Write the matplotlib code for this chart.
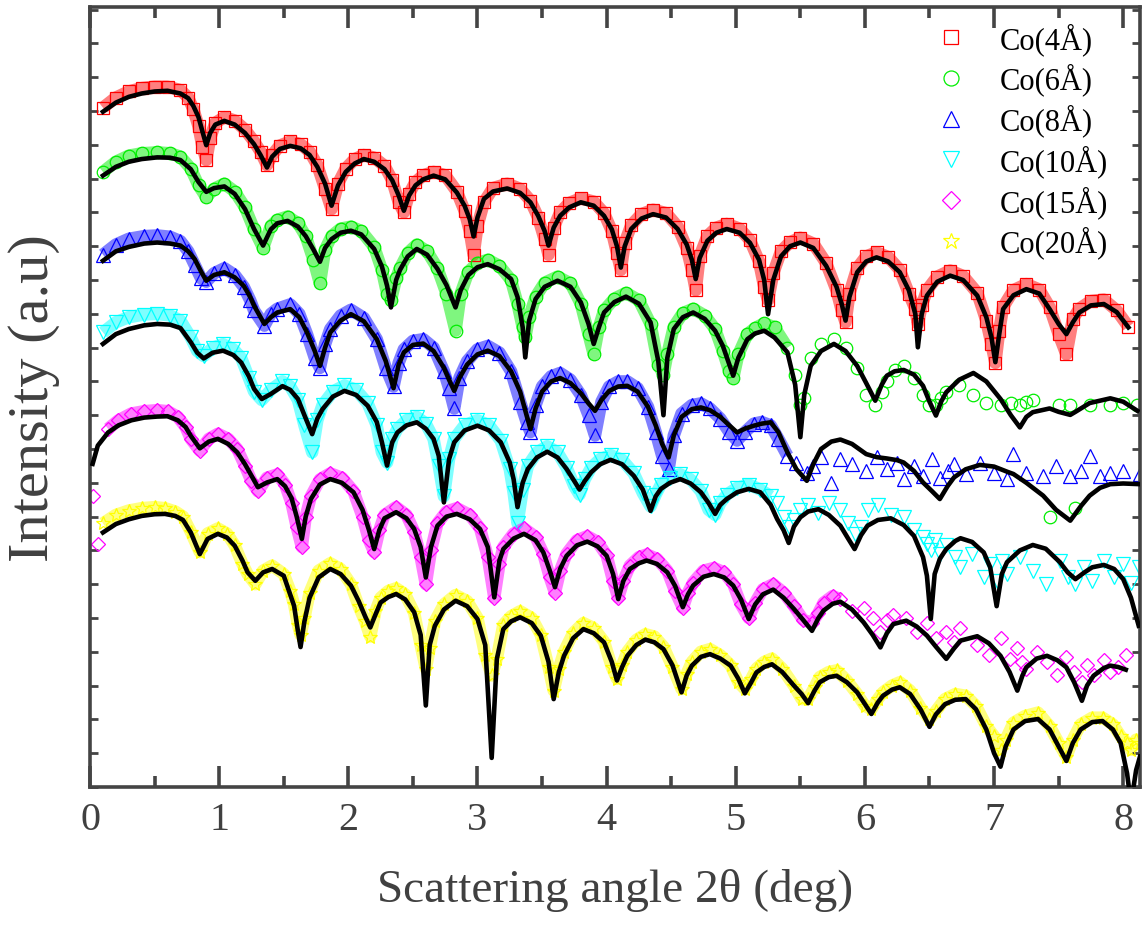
import numpy as np
import matplotlib
matplotlib.use("Agg")
import matplotlib.pyplot as plt
from matplotlib.ticker import MultipleLocator, NullFormatter, NullLocator

# rows: angle (deg), fit curve, measured (offset log intensity, a.u.)
co4 = np.array([
    (0.10, 19.98, 20.10), (0.20, 20.25, 20.40), (0.30, 20.42, 20.58), (0.40, 20.52, 20.68),
    (0.50, 20.58, 20.72), (0.60, 20.60, 20.72), (0.70, 20.52, 20.62), (0.76, 20.38, 20.40),
    (0.80, 20.15, 20.05), (0.84, 19.82, 19.55), (0.87, 19.40, 18.95), (0.90, 18.99, 18.55),
    (0.93, 19.35, 19.20), (0.97, 19.60, 19.65), (1.04, 19.71, 19.82), (1.12, 19.60, 19.72),
    (1.20, 19.35, 19.45), (1.27, 19.02, 19.10), (1.32, 18.70, 18.80), (1.37, 18.33, 18.40),
    (1.41, 18.65, 18.70), (1.47, 18.88, 18.98), (1.55, 18.97, 19.10), (1.63, 18.90, 19.02),
    (1.70, 18.70, 18.80), (1.76, 18.35, 18.40), (1.82, 17.85, 17.70), (1.87, 17.20, 17.10),
    (1.92, 17.80, 17.85), (1.98, 18.20, 18.30), (2.05, 18.45, 18.58), (2.12, 18.58, 18.70),
    (2.20, 18.50, 18.62), (2.28, 18.28, 18.38), (2.34, 17.95, 17.95), (2.39, 17.50, 17.30),
    (2.43, 17.05, 17.00), (2.47, 17.50, 17.55), (2.52, 17.80, 17.90), (2.58, 17.98, 18.10),
    (2.66, 18.09, 18.20), (2.75, 17.98, 18.10), (2.84, 17.59, 17.62), (2.90, 17.20, 17.05),
    (2.94, 16.80, 16.45), (2.97, 16.29, 15.75), (3.00, 16.85, 16.60), (3.05, 17.40, 17.30),
    (3.12, 17.62, 17.72), (3.23, 17.71, 17.85), (3.33, 17.58, 17.70), (3.41, 17.30, 17.35),
    (3.47, 16.90, 16.85), (3.52, 16.45, 16.20), (3.55, 16.02, 15.75), (3.59, 16.55, 16.55),
    (3.64, 16.90, 17.00), (3.71, 17.15, 17.28), (3.80, 17.30, 17.42), (3.90, 17.20, 17.32),
    (3.98, 16.90, 16.98), (4.04, 16.50, 16.45), (4.08, 16.00, 15.80), (4.11, 15.37, 15.30),
    (4.14, 16.00, 16.10), (4.19, 16.51, 16.62), (4.27, 16.82, 16.95), (4.36, 16.95, 17.08),
    (4.46, 16.85, 16.98), (4.55, 16.51, 16.58), (4.62, 16.05, 15.95), (4.66, 15.60, 15.30),
    (4.69, 15.03, 14.70), (4.72, 15.65, 15.70), (4.78, 16.16, 16.30), (4.85, 16.40, 16.55),
    (4.93, 16.51, 16.66), (5.03, 16.40, 16.52), (5.11, 16.10, 16.18), (5.18, 15.60, 15.55),
    (5.22, 15.00, 14.80), (5.25, 13.99, 14.40), (5.29, 15.00, 15.20), (5.35, 15.70, 15.85),
    (5.42, 16.00, 16.12), (5.50, 16.11, 16.25), (5.60, 15.95, 16.08), (5.70, 15.42, 15.50),
    (5.78, 14.80, 14.70), (5.82, 14.30, 14.10), (5.85, 13.80, 13.75), (5.88, 14.50, 14.60),
    (5.94, 15.23, 15.35), (6.01, 15.55, 15.70), (6.09, 15.67, 15.82), (6.18, 15.55, 15.68),
    (6.27, 15.23, 15.30), (6.34, 14.70, 14.60), (6.39, 14.00, 14.15), (6.41, 13.01, 13.70),
    (6.44, 14.00, 14.25), (6.48, 14.54, 14.70), (6.56, 14.95, 15.10), (6.66, 15.13, 15.28),
    (6.76, 15.00, 15.12), (6.87, 14.54, 14.62), (6.94, 13.90, 13.80), (6.98, 13.30, 13.10),
    (7.01, 12.57, 12.55), (7.04, 13.40, 13.50), (7.07, 14.14, 14.20), (7.15, 14.55, 14.70),
    (7.25, 14.73, 14.88), (7.35, 14.60, 14.72), (7.43, 14.14, 14.20), (7.50, 13.70, 13.40),
    (7.56, 13.40, 12.80), (7.61, 13.75, 13.85), (7.66, 14.04, 14.15), (7.75, 14.25, 14.38),
    (7.85, 14.29, 14.42), (7.95, 14.05, 14.10), (8.04, 13.60, 13.62),
])

co6 = np.array([
    (0.10, 18.09, 18.20), (0.20, 18.35, 18.50), (0.30, 18.50, 18.68), (0.40, 18.58, 18.75),
    (0.52, 18.63, 18.78), (0.62, 18.62, 18.75), (0.70, 18.55, 18.65), (0.78, 18.28, 18.30),
    (0.84, 17.90, 17.80), (0.90, 17.61, 17.45), (0.96, 17.72, 17.70), (1.04, 17.77, 17.85),
    (1.12, 17.55, 17.62), (1.20, 17.10, 17.15), (1.27, 16.51, 16.50), (1.34, 16.02, 15.95),
    (1.40, 16.50, 16.60), (1.45, 16.68, 16.78), (1.53, 16.75, 16.88), (1.61, 16.58, 16.68),
    (1.67, 16.30, 16.30), (1.73, 15.90, 15.60), (1.78, 15.54, 14.90), (1.82, 15.95, 15.90),
    (1.87, 16.21, 16.30), (1.94, 16.40, 16.52), (2.02, 16.46, 16.58), (2.10, 16.35, 16.45),
    (2.20, 15.92, 15.98), (2.26, 15.40, 15.30), (2.30, 14.83, 14.60), (2.33, 14.19, 14.40),
    (2.37, 15.00, 15.05), (2.40, 15.30, 15.35), (2.46, 15.70, 15.80), (2.53, 15.92, 16.05),
    (2.61, 15.75, 15.85), (2.69, 15.33, 15.35), (2.76, 14.85, 14.60), (2.83, 14.19, 13.50),
    (2.87, 14.70, 14.60), (2.93, 15.15, 15.25), (3.00, 15.38, 15.50), (3.08, 15.47, 15.60),
    (3.17, 15.32, 15.42), (3.26, 15.03, 15.00), (3.31, 14.50, 14.30), (3.35, 13.60, 13.60),
    (3.37, 12.71, 13.30), (3.40, 13.80, 13.90), (3.45, 14.44, 14.50), (3.52, 14.80, 14.92),
    (3.62, 14.98, 15.10), (3.72, 14.80, 14.90), (3.80, 14.34, 14.30), (3.86, 13.70, 13.40),
    (3.90, 13.11, 12.80), (3.94, 13.60, 13.60), (3.98, 14.04, 14.10), (4.06, 14.35, 14.45),
    (4.15, 14.51, 14.62), (4.25, 14.30, 14.40), (4.34, 13.75, 13.70), (4.40, 12.60, 12.50),
    (4.44, 11.00, 12.20), (4.47, 12.70, 12.80), (4.52, 13.55, 13.62), (4.59, 13.90, 14.02),
    (4.67, 14.04, 14.15), (4.76, 13.85, 13.95), (4.84, 13.50, 13.55), (4.90, 13.05, 12.90),
    (4.95, 12.50, 12.30), (4.98, 12.17, 12.10), (5.02, 12.70, 12.80), (5.09, 13.25, 13.40),
    (5.15, 13.42, 13.58), (5.22, 13.50, 13.72), (5.30, 13.30, 13.60), (5.40, 12.86, 13.00),
    (5.46, 11.90, 12.20), (5.50, 10.35, 11.30), (5.53, 11.60, 11.50), (5.58, 12.46, 12.70),
    (5.66, 12.90, 13.10), (5.76, 13.11, 13.25), (5.85, 12.90, 13.00), (5.94, 12.46, 12.40),
    (6.01, 11.95, 11.60), (6.08, 11.43, 11.30), (6.13, 11.90, 11.70), (6.17, 12.17, 12.00),
    (6.23, 12.30, 12.35), (6.30, 12.34, 12.45), (6.38, 12.20, 12.10), (6.45, 11.87, 11.60),
    (6.50, 11.40, 11.30), (6.55, 10.99, 11.30), (6.59, 11.40, 11.50), (6.63, 11.68, 11.70),
    (6.73, 12.05, 11.90), (6.84, 12.25, 11.60), (6.94, 12.00, 11.35), (7.05, 11.48, 11.30),
    (7.13, 11.00, 11.35), (7.20, 10.64, 11.30), (7.25, 10.95, 11.40), (7.30, 11.09, 11.45),
    (7.43, 11.20, 7.98), (7.50, 11.10, 11.30), (7.59, 11.01, 11.30), (7.63, 11.10, 8.25),
    (7.74, 11.36, 11.30), (7.90, 11.50, 11.30), (8.00, 11.40, 11.35), (8.11, 11.13, 11.30),
])

co8 = np.array([
    (0.10, 15.57, 15.75), (0.20, 15.85, 16.05), (0.30, 15.98, 16.22), (0.42, 16.08, 16.30),
    (0.52, 16.11, 16.32), (0.62, 16.08, 16.28), (0.70, 16.02, 16.15), (0.76, 15.85, 15.85),
    (0.81, 15.62, 15.45), (0.86, 15.25, 15.05), (0.90, 14.98, 14.95), (0.96, 15.15, 15.20),
    (1.04, 15.23, 15.35), (1.12, 15.08, 15.15), (1.19, 14.83, 14.80), (1.24, 14.50, 14.40),
    (1.27, 14.24, 14.10), (1.35, 13.70, 13.65), (1.40, 13.90, 14.00), (1.45, 14.04, 14.15),
    (1.55, 14.14, 14.28), (1.62, 13.90, 14.00), (1.68, 13.45, 13.40), (1.74, 12.90, 12.70),
    (1.78, 12.46, 12.40), (1.82, 13.00, 13.10), (1.86, 13.45, 13.55), (1.94, 13.80, 13.95),
    (2.02, 13.99, 14.12), (2.12, 13.78, 13.88), (2.22, 13.25, 13.25), (2.29, 12.60, 12.40),
    (2.35, 11.80, 11.85), (2.39, 12.50, 12.55), (2.43, 12.86, 12.95), (2.50, 13.08, 13.20),
    (2.58, 13.12, 13.25), (2.66, 12.90, 13.00), (2.74, 12.40, 12.30), (2.78, 12.05, 11.80),
    (2.82, 11.72, 11.20), (2.86, 12.10, 12.10), (2.92, 12.50, 12.60), (3.00, 12.80, 12.95),
    (3.08, 12.91, 13.05), (3.17, 12.75, 12.85), (3.26, 12.30, 12.30), (3.33, 11.70, 11.40),
    (3.38, 11.00, 10.80), (3.41, 10.59, 10.50), (3.45, 11.20, 11.30), (3.50, 11.70, 11.85),
    (3.57, 12.00, 12.15), (3.64, 12.10, 12.25), (3.72, 11.95, 12.05), (3.80, 11.65, 11.60),
    (3.86, 11.35, 11.00), (3.91, 11.13, 10.40), (3.96, 11.45, 11.40), (4.02, 11.72, 11.85),
    (4.09, 11.85, 12.00), (4.16, 11.87, 12.00), (4.24, 11.70, 11.80), (4.32, 11.25, 11.25),
    (4.38, 10.70, 10.50), (4.43, 10.15, 9.80), (4.48, 9.75, 9.40), (4.52, 10.40, 10.40),
    (4.58, 10.95, 11.05), (4.66, 11.18, 11.30), (4.73, 11.23, 11.35), (4.80, 11.15, 11.20),
    (4.88, 10.95, 10.90), (4.95, 10.70, 10.50), (5.01, 10.49, 10.25), (5.07, 10.60, 10.50),
    (5.14, 10.69, 10.75), (5.20, 10.75, 10.80), (5.27, 10.79, 10.70), (5.33, 10.50, 10.30),
    (5.40, 9.90, 9.80), (5.47, 9.40, 9.60), (5.55, 9.06, 9.30), (5.60, 9.55, 9.50),
    (5.66, 10.00, 9.75), (5.74, 10.22, 9.00), (5.81, 10.28, 9.70), (5.90, 10.15, 9.55),
    (6.01, 9.85, 9.35), (6.09, 9.76, 9.75), (6.17, 9.72, 9.40), (6.25, 9.67, 9.60),
    (6.30, 9.60, 9.10), (6.38, 9.35, 9.50), (6.45, 9.01, 9.20), (6.52, 8.75, 9.70),
    (6.58, 8.52, 9.15), (6.64, 8.90, 9.35), (6.69, 9.16, 9.55), (6.78, 9.40, 9.25),
    (6.89, 9.53, 9.60), (7.00, 9.48, 9.30), (7.10, 9.33, 9.10), (7.15, 9.26, 9.85),
    (7.25, 9.00, 9.30), (7.38, 8.62, 9.20), (7.48, 8.20, 9.50), (7.59, 7.88, 9.20),
    (7.67, 8.30, 9.35), (7.74, 8.62, 9.80), (7.82, 8.85, 9.20), (7.90, 8.96, 9.30),
    (8.00, 8.98, 9.35), (8.13, 8.96, 9.25),
])

co10 = np.array([
    (0.10, 13.11, 13.45), (0.20, 13.40, 13.75), (0.30, 13.55, 13.90), (0.42, 13.66, 13.98),
    (0.52, 13.70, 14.00), (0.62, 13.68, 13.95), (0.70, 13.58, 13.80), (0.78, 13.16, 13.30),
    (0.83, 12.85, 12.90), (0.88, 12.68, 12.75), (0.95, 12.85, 13.00), (1.03, 12.91, 13.10),
    (1.11, 12.78, 12.95), (1.17, 12.56, 12.70), (1.23, 12.15, 12.10), (1.27, 11.78, 11.70),
    (1.33, 11.48, 11.45), (1.40, 11.63, 11.75), (1.49, 11.86, 12.00), (1.55, 11.75, 11.85),
    (1.61, 11.48, 11.45), (1.66, 11.00, 10.70), (1.72, 10.44, 9.90), (1.76, 10.90, 10.85),
    (1.80, 11.18, 11.30), (1.88, 11.55, 11.70), (1.97, 11.72, 11.88), (2.06, 11.60, 11.75),
    (2.15, 11.28, 11.35), (2.22, 10.80, 10.70), (2.26, 10.20, 9.90), (2.30, 9.51, 9.60),
    (2.34, 10.20, 10.30), (2.38, 10.49, 10.60), (2.45, 10.70, 10.85), (2.53, 10.79, 10.95),
    (2.60, 10.60, 10.75), (2.66, 10.30, 10.30), (2.70, 9.80, 9.50), (2.74, 8.42, 8.60),
    (2.78, 9.70, 9.70), (2.82, 10.20, 10.30), (2.90, 10.55, 10.70), (3.00, 10.69, 10.85),
    (3.09, 10.55, 10.70), (3.18, 10.20, 10.25), (3.25, 9.60, 9.40), (3.28, 9.10, 8.70),
    (3.31, 8.28, 7.80), (3.35, 9.00, 8.80), (3.39, 9.41, 9.50), (3.46, 9.75, 9.90),
    (3.54, 9.92, 10.08), (3.62, 9.75, 9.90), (3.69, 9.41, 9.45), (3.75, 9.05, 8.90),
    (3.79, 8.80, 8.65), (3.83, 9.05, 9.10), (3.88, 9.31, 9.45), (3.95, 9.55, 9.70),
    (4.03, 9.68, 9.82), (4.12, 9.55, 9.68), (4.21, 9.21, 9.28), (4.28, 8.80, 8.70),
    (4.34, 8.17, 8.30), (4.38, 8.60, 8.65), (4.42, 8.82, 8.95), (4.49, 9.00, 9.15),
    (4.57, 9.11, 9.25), (4.65, 8.98, 9.10), (4.73, 8.72, 8.75), (4.79, 8.40, 8.20),
    (4.84, 8.08, 8.05), (4.88, 8.35, 8.40), (4.93, 8.52, 8.65), (5.01, 8.72, 8.85),
    (5.10, 8.82, 8.95), (5.19, 8.72, 8.80), (5.27, 8.35, 8.60), (5.32, 7.93, 8.40),
    (5.37, 7.60, 8.00), (5.41, 7.22, 7.70), (5.45, 7.70, 7.90), (5.50, 7.98, 8.20),
    (5.56, 8.15, 8.35), (5.64, 8.22, 8.10), (5.72, 8.05, 8.40), (5.81, 7.73, 8.20),
    (5.87, 7.35, 7.80), (5.92, 7.04, 7.50), (5.97, 7.45, 7.70), (6.02, 7.73, 8.20),
    (6.10, 7.90, 8.35), (6.20, 7.95, 8.05), (6.30, 7.75, 8.00), (6.38, 7.43, 7.60),
    (6.45, 6.80, 7.40), (6.48, 6.25, 7.20), (6.51, 4.97, 7.00), (6.54, 6.30, 7.30),
    (6.58, 6.75, 6.90), (6.63, 7.04, 7.15), (6.70, 7.28, 6.80), (6.74, 7.36, 6.50),
    (6.83, 7.25, 6.90), (6.92, 6.94, 6.20), (6.97, 6.50, 6.60), (7.02, 5.35, 6.10),
    (7.06, 6.30, 6.70), (7.10, 6.65, 6.30), (7.20, 7.00, 6.80), (7.30, 7.16, 6.40),
    (7.40, 7.05, 6.00), (7.51, 6.65, 6.70), (7.57, 6.35, 6.20), (7.63, 6.15, 6.00),
    (7.70, 6.35, 6.50), (7.76, 6.50, 6.10), (7.85, 6.57, 6.70), (7.93, 6.45, 6.20),
    (8.00, 6.15, 6.60), (8.06, 5.60, 6.05), (8.12, 4.77, 6.50),
])

co15 = np.array([
    (0.02, 9.56, 8.60), (0.06, 10.10, 7.20), (0.14, 10.49, 10.60), (0.22, 10.70, 10.85),
    (0.32, 10.85, 11.05), (0.42, 10.93, 11.12), (0.52, 10.96, 11.15), (0.60, 10.97, 11.12),
    (0.68, 10.85, 10.95), (0.74, 10.65, 10.65), (0.78, 10.39, 10.30), (0.85, 10.02, 9.95),
    (0.92, 10.22, 10.30), (0.99, 10.30, 10.45), (1.07, 10.15, 10.30), (1.14, 9.90, 10.00),
    (1.20, 9.55, 9.50), (1.25, 9.21, 9.05), (1.30, 8.87, 8.75), (1.37, 9.01, 9.15),
    (1.45, 9.11, 9.25), (1.51, 8.90, 8.95), (1.56, 8.55, 8.40), (1.60, 8.00, 7.70),
    (1.64, 7.34, 7.10), (1.67, 8.00, 8.00), (1.71, 8.52, 8.60), (1.78, 8.95, 9.10),
    (1.86, 9.11, 9.28), (1.95, 9.00, 9.15), (2.04, 8.72, 8.75), (2.11, 8.20, 8.00),
    (2.16, 7.60, 7.30), (2.20, 7.04, 6.95), (2.24, 7.60, 7.60), (2.28, 7.95, 8.05),
    (2.37, 8.13, 8.28), (2.45, 7.95, 8.05), (2.51, 7.63, 7.55), (2.56, 7.10, 6.80),
    (2.60, 6.20, 6.00), (2.64, 7.10, 7.00), (2.69, 7.73, 7.80), (2.76, 8.00, 8.15),
    (2.84, 8.08, 8.25), (2.94, 7.92, 8.05), (3.02, 7.63, 7.65), (3.08, 7.10, 6.80),
    (3.13, 5.61, 5.60), (3.17, 6.70, 6.60), (3.20, 7.04, 7.10), (3.28, 7.35, 7.50),
    (3.36, 7.49, 7.65), (3.45, 7.30, 7.40), (3.51, 6.94, 6.90), (3.56, 6.40, 6.20),
    (3.60, 5.91, 5.75), (3.64, 6.45, 6.40), (3.69, 6.84, 6.90), (3.77, 7.15, 7.30),
    (3.85, 7.26, 7.42), (3.93, 7.12, 7.25), (4.00, 6.84, 6.85), (4.05, 6.30, 6.10),
    (4.09, 5.56, 5.60), (4.13, 6.10, 6.10), (4.18, 6.45, 6.55), (4.25, 6.62, 6.80),
    (4.31, 6.70, 6.88), (4.39, 6.60, 6.75), (4.47, 6.35, 6.40), (4.53, 5.95, 5.80),
    (4.59, 5.32, 5.30), (4.63, 5.70, 5.75), (4.67, 5.96, 6.05), (4.75, 6.22, 6.40),
    (4.83, 6.30, 6.48), (4.91, 6.20, 6.35), (4.98, 5.96, 6.00), (5.04, 5.55, 5.40),
    (5.10, 4.97, 5.00), (5.15, 5.40, 5.45), (5.21, 5.70, 5.85), (5.29, 5.84, 6.00),
    (5.37, 5.60, 5.75), (5.45, 5.27, 5.35), (5.52, 4.95, 4.95), (5.59, 4.62, 4.85),
    (5.64, 5.00, 5.15), (5.68, 5.22, 5.45), (5.75, 5.42, 5.65), (5.81, 5.48, 5.55),
    (5.90, 5.25, 5.20), (5.99, 4.87, 5.30), (6.06, 4.50, 5.00), (6.12, 4.13, 4.60),
    (6.17, 4.55, 4.95), (6.22, 4.82, 5.10), (6.32, 4.92, 5.00), (6.40, 4.75, 4.60),
    (6.48, 4.48, 4.85), (6.55, 4.15, 4.40), (6.63, 3.79, 4.60), (6.69, 4.10, 4.30),
    (6.74, 4.33, 4.70), (6.87, 4.46, 4.20), (6.96, 4.25, 3.90), (7.05, 3.88, 4.40),
    (7.12, 3.40, 3.80), (7.18, 2.85, 4.10), (7.22, 3.30, 3.70), (7.25, 3.54, 3.50),
    (7.33, 3.80, 4.00), (7.41, 3.88, 3.70), (7.49, 3.75, 3.30), (7.56, 3.54, 3.85),
    (7.62, 3.10, 3.40), (7.68, 2.55, 3.10), (7.72, 3.00, 3.60), (7.77, 3.29, 3.30),
    (7.85, 3.52, 3.75), (7.90, 3.59, 3.40), (7.96, 3.55, 3.55), (8.02, 3.47, 3.90),
])

co20 = np.array([
    (0.10, 7.53, 7.80), (0.20, 7.78, 8.05), (0.30, 7.92, 8.18), (0.40, 8.02, 8.25),
    (0.50, 8.07, 8.28), (0.58, 8.08, 8.25), (0.66, 8.02, 8.15), (0.72, 7.90, 8.00),
    (0.78, 7.53, 7.55), (0.85, 6.89, 6.95), (0.91, 7.34, 7.50), (0.99, 7.49, 7.65),
    (1.06, 7.38, 7.50), (1.12, 7.14, 7.15), (1.18, 6.70, 6.60), (1.22, 6.35, 6.30),
    (1.28, 6.10, 6.00), (1.34, 6.35, 6.40), (1.41, 6.45, 6.55), (1.50, 6.25, 6.30),
    (1.55, 5.70, 5.80), (1.58, 5.36, 5.40), (1.61, 4.60, 4.80), (1.63, 4.14, 4.50),
    (1.66, 4.90, 5.00), (1.70, 5.60, 5.75), (1.77, 6.20, 6.40), (1.86, 6.45, 6.62),
    (1.94, 6.30, 6.45), (2.02, 5.96, 6.00), (2.08, 5.50, 5.35), (2.13, 5.05, 4.90),
    (2.17, 4.72, 4.45), (2.21, 5.10, 5.20), (2.25, 5.46, 5.60), (2.31, 5.62, 5.80),
    (2.37, 5.71, 5.88), (2.44, 5.55, 5.70), (2.51, 5.17, 5.15), (2.56, 4.50, 4.20),
    (2.60, 2.41, 3.50), (2.63, 4.20, 4.10), (2.67, 4.77, 4.90), (2.74, 5.25, 5.40),
    (2.83, 5.51, 5.68), (2.92, 5.35, 5.50), (3.00, 4.97, 5.00), (3.06, 4.20, 3.90),
    (3.11, 0.86, 3.30), (3.15, 3.79, 3.80), (3.20, 4.67, 4.80), (3.26, 4.90, 5.05),
    (3.33, 5.02, 5.20), (3.42, 4.85, 5.00), (3.49, 4.48, 4.50), (3.55, 3.70, 3.55),
    (3.59, 2.60, 2.85), (3.63, 3.40, 3.50), (3.67, 3.88, 4.00), (3.74, 4.40, 4.55),
    (3.82, 4.67, 4.85), (3.90, 4.55, 4.70), (3.98, 4.28, 4.30), (4.04, 3.70, 3.55),
    (4.08, 3.15, 3.20), (4.12, 3.55, 3.60), (4.16, 3.88, 4.00), (4.23, 4.20, 4.35),
    (4.30, 4.36, 4.52), (4.37, 4.28, 4.45), (4.44, 4.08, 4.15), (4.51, 3.60, 3.55),
    (4.58, 2.80, 2.90), (4.62, 3.30, 3.35), (4.66, 3.59, 3.70), (4.73, 3.85, 4.00),
    (4.80, 3.93, 4.08), (4.88, 3.80, 3.90), (4.96, 3.59, 3.60), (5.02, 3.20, 3.10),
    (5.07, 2.77, 2.90), (5.12, 3.10, 3.20), (5.16, 3.39, 3.50), (5.22, 3.55, 3.70),
    (5.28, 3.63, 3.80), (5.36, 3.40, 3.50), (5.45, 3.00, 3.00), (5.51, 2.75, 2.60),
    (5.56, 2.48, 2.60), (5.61, 2.85, 2.95), (5.65, 3.10, 3.25), (5.72, 3.25, 3.40),
    (5.78, 3.29, 3.45), (5.86, 3.10, 3.15), (5.94, 2.80, 2.75), (6.00, 2.45, 2.40),
    (6.05, 2.16, 2.30), (6.10, 2.50, 2.60), (6.14, 2.70, 2.80), (6.21, 2.88, 3.00),
    (6.27, 2.95, 3.10), (6.35, 2.75, 2.85), (6.43, 2.30, 2.35), (6.50, 1.78, 2.00),
    (6.55, 2.15, 2.25), (6.62, 2.45, 2.60), (6.70, 2.58, 2.75), (6.78, 2.60, 2.70),
    (6.86, 2.30, 2.40), (6.94, 1.70, 1.80), (7.00, 1.00, 1.50), (7.05, 0.60, 1.10),
    (7.09, 1.20, 1.40), (7.15, 1.70, 1.90), (7.24, 1.95, 2.10), (7.34, 2.01, 2.20),
    (7.43, 1.70, 1.80), (7.50, 1.20, 1.30), (7.56, 0.77, 0.90), (7.61, 1.30, 1.40),
    (7.67, 1.70, 1.85), (7.76, 1.92, 2.05), (7.84, 1.95, 2.05), (7.92, 1.70, 1.85),
    (7.98, 1.30, 1.50), (8.03, 0.40, 1.30), (8.06, -0.50, 1.10), (8.10, 0.50, 1.40),
    (8.13, 0.90, 1.30),
])

labels = ["Co(4Å)", "Co(6Å)", "Co(8Å)", "Co(10Å)", "Co(15Å)", "Co(20Å)"]
colors = ["#ff0000", "#00ee00", "#0000ff", "#00ffff", "#ff00ff", "#ffff00"]
markers = ["s", "o", "^", "v", "D", "*"]
msizes = [8, 9, 9.5, 9.5, 7.5, 10]
# angular range where the measured points overlap into a continuous band
dense_from = [0.0, 0.0, 0.0, 0.0, 0.1, 0.0]
dense_until = [8.2, 5.42, 5.45, 5.3, 5.85, 8.2]

plt.rcParams["font.family"] = ["Liberation Serif", "DejaVu Serif"]

fig = plt.figure(figsize=(11.47, 9.28), dpi=100)
ax = fig.add_axes([0.0785, 0.1509, 0.9154, 0.8405])

series = [co4, co6, co8, co10, co15, co20]
for rows, lab, c, m, ms, lo, hi in zip(series, labels, colors, markers, msizes,
                                       dense_from, dense_until):
    x, fit, dat = rows.T
    keep = (x >= lo) & (x <= hi)
    ax.plot(x[keep], dat[keep], color=c, lw=9, alpha=0.5, solid_capstyle="butt",
            solid_joinstyle="round", zorder=1)
    ax.plot(x, dat, linestyle="none", marker=m, ms=ms, mfc="none", mec=c,
            mew=0.9, label=lab, zorder=2)
for rows in series:
    x, fit, dat = rows.T
    ax.plot(x, fit, color="black", lw=3.3, zorder=3, solid_joinstyle="round")

ax.set_xlim(0, 8.13)
ax.set_ylim(0, 23.08)

spine_col = "#444444"
for s in ax.spines.values():
    s.set_color(spine_col)
    s.set_linewidth(2.6)

ax.xaxis.set_major_locator(MultipleLocator(1))
ax.xaxis.set_minor_locator(MultipleLocator(0.5))
ax.yaxis.set_major_locator(NullLocator())
ax.yaxis.set_minor_locator(MultipleLocator(1))
ax.yaxis.set_minor_formatter(NullFormatter())
ax.tick_params(axis="x", which="major", direction="in", length=15, width=2.6,
               color=spine_col, top=True, labelsize=29, labelcolor="#404040", pad=10)
ax.tick_params(axis="x", which="minor", direction="in", length=8, width=2.6,
               color=spine_col, top=True)
ax.tick_params(axis="y", which="minor", direction="in", length=6, width=2.0,
               color=spine_col, right=True)

ax.set_xlabel("Scattering angle 2θ (deg)", fontsize=34, color="#404040", labelpad=22)
ax.set_ylabel("Intensity (a.u)", fontsize=42, color="#404040", labelpad=18)

leg = ax.legend(loc="upper right", bbox_to_anchor=(0.99, 1.008), frameon=False,
                fontsize=22, handletextpad=0.6, labelspacing=0.26, markerscale=1.2,
                borderaxespad=0.3)

fig.savefig("out.png", dpi=100)
